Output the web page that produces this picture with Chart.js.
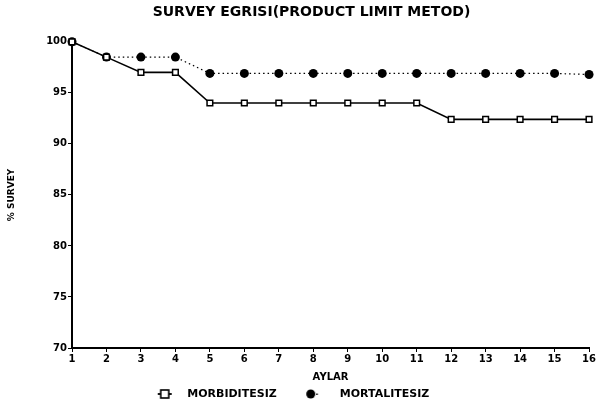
<!DOCTYPE html>
<html>
<head>
<meta charset="utf-8">
<script src="https://cdn.jsdelivr.net/npm/chart.js@4.4.0/dist/chart.umd.min.js"></script>
<style>
  html, body { margin: 0; padding: 0; background: #fff; }
  #wrap { width: 597px; height: 407px; }
</style>
</head>
<body>
<div id="wrap"><canvas id="chart" width="597" height="407"></canvas></div>
<script>
const months = [1, 2, 3, 4, 5, 6, 7, 8, 9, 10, 11, 12, 13, 14, 15, 16];
const morbiditesiz = [100, 98.5, 97, 97, 94, 94, 94, 94, 94, 94, 94, 92.4, 92.4, 92.4, 92.4, 92.4];
const mortalitesiz = [100, 98.5, 98.5, 98.5, 96.9, 96.9, 96.9, 96.9, 96.9, 96.9, 96.9, 96.9, 96.9, 96.9, 96.9, 96.8];
const yTicks = [70, 75, 80, 85, 90, 95, 100];

const FONT = '"DejaVu Sans", "Liberation Sans", sans-serif';

function toPoints(values) {
  return months.map((m, i) => ({ x: m, y: values[i] }));
}

// legend markers drawn on a small canvas: "-□-" and "●·"
// the canvas is wider than the legend box so the marker can sit left of it
function legendMarker(kind) {
  const c = document.createElement('canvas');
  c.width = 60; c.height = 12;
  const g = c.getContext('2d');
  g.strokeStyle = '#000';
  g.fillStyle = '#000';
  g.lineWidth = 1.8;
  if (kind === 'rect') {
    const cx = 22;
    g.beginPath(); g.moveTo(cx - 7, 6); g.lineTo(cx + 7, 6); g.stroke();
    g.fillStyle = '#fff';
    g.fillRect(cx - 4, 2, 8, 8);
    g.lineWidth = 1.6;
    g.strokeRect(cx - 4, 2, 8, 8);
  } else {
    const cx = 15.5;
    g.beginPath(); g.arc(cx, 6, 4.5, 0, Math.PI * 2); g.fill();
    g.fillRect(cx + 5.5, 5.5, 1.5, 1.5);
  }
  return c;
}
const markers = [legendMarker('rect'), legendMarker('circle')];

// x axis labels live in the legend's empty top padding, so give the axis box
// room to draw them; also nudge the title a bit right like the original
const layoutTweak = {
  id: 'layoutTweak',
  afterLayout(chart) {
    const x = chart.scales.x;
    x.bottom = x.top + 36;
    if (chart.titleBlock) chart.titleBlock.left = 30;
  }
};

new Chart(document.getElementById('chart'), {
  type: 'line',
  data: {
    datasets: [
      {
        label: 'MORBIDITESIZ',
        data: toPoints(morbiditesiz),
        borderColor: '#000',
        borderWidth: 1.6,
        backgroundColor: '#fff',
        pointStyle: 'rect',
        pointRadius: 4,
        pointBorderWidth: 1.5,
        pointBorderColor: '#000',
        pointBackgroundColor: '#fff',
        clip: false
      },
      {
        label: 'MORTALITESIZ',
        data: toPoints(mortalitesiz),
        borderColor: '#000',
        borderWidth: 1.2,
        borderDash: [1.5, 3],
        backgroundColor: '#000',
        pointStyle: 'circle',
        pointRadius: 4.5,
        pointBorderWidth: 0,
        pointBackgroundColor: '#000',
        clip: false
      }
    ]
  },
  plugins: [layoutTweak],
  options: {
    responsive: false,
    animation: false,
    layout: { padding: { left: 0, right: 4, top: 0, bottom: -2.5 } },
    plugins: {
      title: {
        display: true,
        text: 'SURVEY EGRISI(PRODUCT LIMIT METOD)',
        color: '#000',
        font: { family: FONT, size: 14, weight: 'bold' },
        padding: { top: 4, bottom: 21 }
      },
      legend: {
        position: 'bottom',
        labels: {
          color: '#000',
          font: { family: FONT, size: 11, weight: 'bold' },
          usePointStyle: true,
          pointStyleWidth: 18,
          padding: 39.5,
          generateLabels: (chart) => {
            const items = Chart.defaults.plugins.legend.labels.generateLabels(chart);
            items.forEach((it, i) => { it.pointStyle = markers[i]; });
            return items;
          }
        }
      },
      tooltip: { enabled: false }
    },
    scales: {
      x: {
        type: 'linear',
        min: 1,
        max: 16,
        border: { color: '#000', width: 2 },
        grid: { drawOnChartArea: false, drawTicks: true, tickLength: 4, color: '#000' },
        afterFit: (scale) => { scale.height = 1; },
        ticks: {
          stepSize: 1,
          color: '#000',
          padding: 1,
          font: { family: FONT, size: 10, weight: 'bold' }
        },
        title: {
          display: true,
          text: 'AYLAR',
          color: '#000',
          font: { family: FONT, size: 10, weight: 'bold' },
          padding: { top: 0, bottom: 1 }
        }
      },
      y: {
        min: 70,
        max: 100,
        border: { color: '#000', width: 2 },
        grid: { drawOnChartArea: false, drawTicks: true, tickLength: 4, color: '#000' },
        afterBuildTicks: (scale) => { scale.ticks = yTicks.map(v => ({ value: v })); },
        afterFit: (scale) => { scale.width = 72; },
        ticks: {
          color: '#000',
          padding: 1,
          font: { family: FONT, size: 10, weight: 'bold' }
        },
        title: {
          display: true,
          text: '% SURVEY',
          color: '#000',
          font: { family: FONT, size: 9, weight: 'bold' },
          padding: { top: 6.6, bottom: 0 }
        }
      }
    }
  }
});
</script>
</body>
</html>
